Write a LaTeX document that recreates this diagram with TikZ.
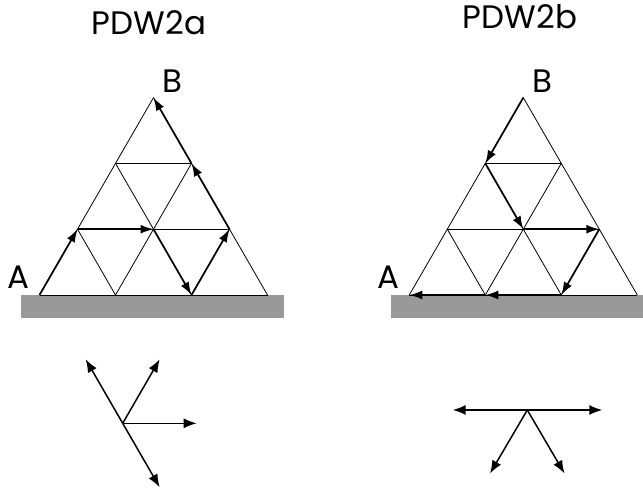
\documentclass[tikz,border=0pt]{standalone}
\usepackage{fontspec}
\setmainfont{Poppins}
\usetikzlibrary{arrows.meta}
\tikzset{
  gridline/.style={draw=black, line width=0.8pt},
  patharrow/.style={draw=black, line width=1.7pt, -{Latex[length=13pt,width=9pt]}},
  stararrow/.style={draw=black, line width=1.5pt, -{Latex[length=13pt,width=10pt]}},
  groundbar/.style={fill=black!40, draw=none},
  lbl/.style={inner sep=0pt, anchor=base, font=\fontsize{32.5}{33}\selectfont},
}
\begin{document}
\begin{tikzpicture}[x=1pt, y=-1pt]
\useasboundingbox (0,0) rectangle (643,492);
% titles
\node[lbl] (ta) at (149,35) {PDW2a};
\node[lbl] (tb) at (520,29) {PDW2b};
% ground bars
\fill[groundbar] (21,295) rectangle (284,318);
\fill[groundbar] (391,295) rectangle (643,318);
% left triangle
\begin{scope}[shift={(39.5,295)}, x={(76pt,0pt)}, y={(38pt,65.8pt)}]
  \foreach \i in {0,...,3}{
    \pgfmathtruncatemacro{\jm}{3-\i}
    \foreach \j in {0,...,\jm}{ \coordinate (L\i\j) at (\i,\j); }
  }
  \draw[gridline] (L00) -- (L30) (L01) -- (L21) (L02) -- (L12);
  \draw[gridline] (L00) -- (L03) (L10) -- (L12) (L20) -- (L21);
  \draw[gridline] (L10) -- (L01) (L20) -- (L02) (L30) -- (L03);
  \draw[patharrow] (L00) -- (L01);
  \draw[patharrow] (L01) -- (L11);
  \draw[patharrow] (L11) -- (L20);
  \draw[patharrow] (L20) -- (L21);
  \draw[patharrow] (L21) -- (L12);
  \draw[patharrow] (L12) -- (L03);
\end{scope}
% right triangle
\begin{scope}[shift={(409.3,295)}, x={(76pt,0pt)}, y={(38pt,65.8pt)}]
  \foreach \i in {0,...,3}{
    \pgfmathtruncatemacro{\jm}{3-\i}
    \foreach \j in {0,...,\jm}{ \coordinate (R\i\j) at (\i,\j); }
  }
  \draw[gridline] (R00) -- (R30) (R01) -- (R21) (R02) -- (R12);
  \draw[gridline] (R00) -- (R03) (R10) -- (R12) (R20) -- (R21);
  \draw[gridline] (R10) -- (R01) (R20) -- (R02) (R30) -- (R03);
  \draw[patharrow] (R03) -- (R02);
  \draw[patharrow] (R02) -- (R11);
  \draw[patharrow] (R11) -- (R21);
  \draw[patharrow] (R21) -- (R20);
  \draw[patharrow] (R20) -- (R10);
  \draw[patharrow] (R10) -- (R00);
\end{scope}
% vertex labels
\node[lbl] (Aa) at (18,288) {A};
\node[lbl] (Ba) at (172.5,93) {B};
\node[lbl] (Ab) at (388,288) {A};
\node[lbl] (Bb) at (542.5,93) {B};
% left star
\coordinate (Ca) at (122.7,423.3);
\coordinate (Ca1) at (85.7,359.3);
\coordinate (Ca2) at (159.7,359.3);
\coordinate (Ca3) at (196.7,423.3);
\coordinate (Ca4) at (159.7,487.3);
\foreach \e in {Ca1,Ca2,Ca3,Ca4}{ \draw[stararrow] (Ca) -- (\e); }
% right star
\coordinate (Cb) at (527.3,410);
\coordinate (Cb1) at (452.7,410);
\coordinate (Cb2) at (602.3,410);
\coordinate (Cb3) at (490,473.5);
\coordinate (Cb4) at (564.5,473.5);
\foreach \e in {Cb1,Cb2,Cb3,Cb4}{ \draw[stararrow] (Cb) -- (\e); }
\end{tikzpicture}
\end{document}
